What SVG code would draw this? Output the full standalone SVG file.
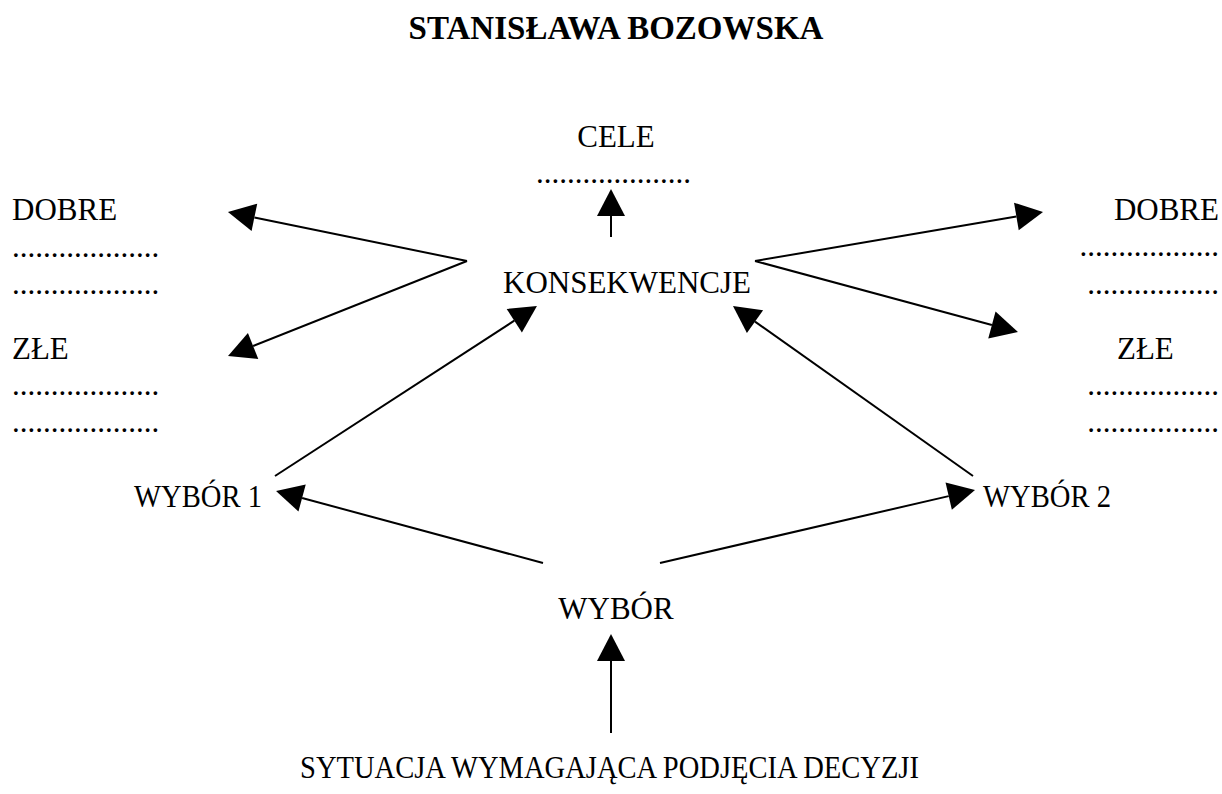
<svg xmlns="http://www.w3.org/2000/svg" width="1222" height="794" viewBox="0 0 1222 794">
<defs>
<style>
text{font-family:"Liberation Serif","Times New Roman",serif;font-size:31px;fill:#000}
.t{font-weight:bold;font-size:33px}
.c{text-anchor:middle}
.e{text-anchor:end}
.l{stroke:#000;stroke-width:2;fill:none;marker-end:url(#ah)}
</style>
<marker id="ah" markerUnits="userSpaceOnUse" markerWidth="30" markerHeight="30" viewBox="0 -15 28 30" refX="0" refY="0" orient="auto">
<path d="M0,-14 L27,0 L0,14 Z" fill="#000"/>
</marker>
</defs>
<rect width="1222" height="794" fill="#fff"/>
<g id="title"><text class="t c" x="616" y="39">STANISŁAWA BOZOWSKA</text></g>
<g id="cele"><text class="c" x="616" y="147">CELE</text><text x="536" y="183">....................</text></g>
<g id="konsekwencje"><text class="c" x="627" y="293">KONSEKWENCJE</text></g>
<g id="left-dobre"><text x="12" y="220">DOBRE</text><text x="12" y="257">...................</text><text x="12" y="294">...................</text></g>
<g id="left-zle"><text x="12" y="359">ZŁE</text><text x="12" y="395">...................</text><text x="12" y="432">...................</text></g>
<g id="right-dobre"><text class="e" x="1219" y="220">DOBRE</text><text class="e" x="1219" y="256">..................</text><text class="e" x="1219" y="294">.................</text></g>
<g id="right-zle"><text x="1117" y="359">ZŁE</text><text class="e" x="1219" y="395">.................</text><text class="e" x="1219" y="432">.................</text></g>
<g id="wybor1"><text x="134" y="507" textLength="128" lengthAdjust="spacingAndGlyphs">WYBÓR 1</text></g>
<g id="wybor2"><text x="983" y="507" textLength="128" lengthAdjust="spacingAndGlyphs">WYBÓR 2</text></g>
<g id="wybor"><text class="c" x="616" y="619">WYBÓR</text></g>
<g id="sytuacja"><text x="300" y="778" textLength="619" lengthAdjust="spacingAndGlyphs">SYTUACJA WYMAGAJĄCA PODJĘCIA DECYZJI</text></g>
<g id="connectors">
<line class="l" x1="611" y1="237" x2="611" y2="216"/>
<line class="l" x1="467" y1="261" x2="254.4" y2="217.4"/>
<line class="l" x1="467" y1="261" x2="253.1" y2="346"/>
<line class="l" x1="755" y1="261" x2="1016.4" y2="216.5"/>
<line class="l" x1="755" y1="261" x2="991.9" y2="325"/>
<line class="l" x1="275" y1="476" x2="514.3" y2="320.7"/>
<line class="l" x1="973" y1="476" x2="755" y2="321.6"/>
<line class="l" x1="543" y1="563" x2="302.1" y2="498"/>
<line class="l" x1="660" y1="563" x2="948.7" y2="496.1"/>
<line class="l" x1="611" y1="733" x2="611" y2="661"/>
</g>
</svg>
